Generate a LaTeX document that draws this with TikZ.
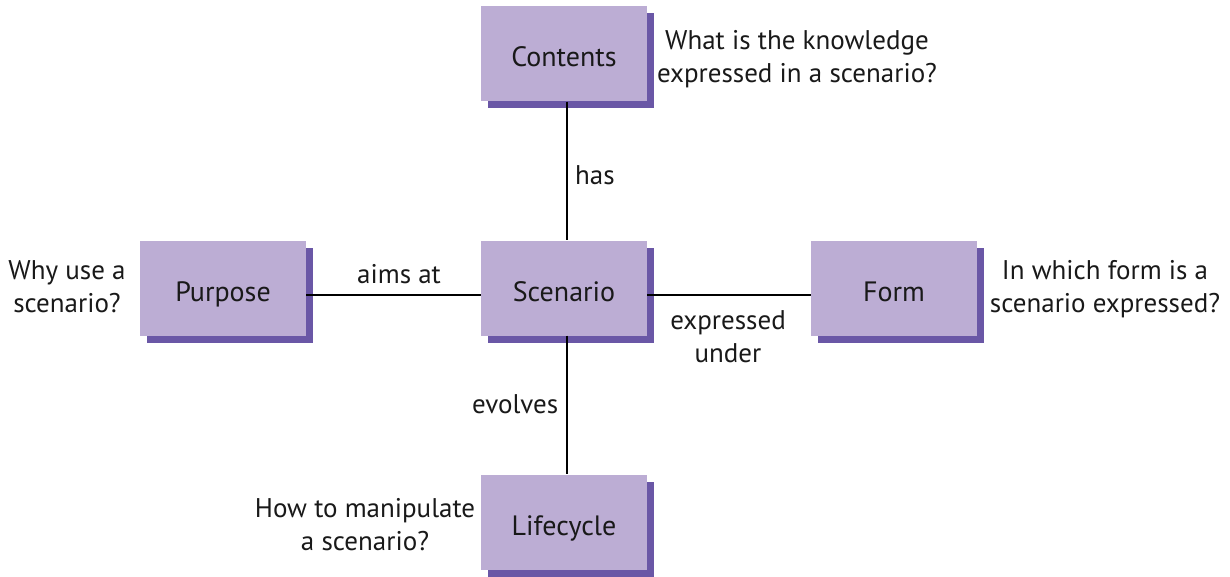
\documentclass[tikz,border=0pt]{standalone}
\usepackage{fontspec}
\setmainfont{PT Sans}
\usetikzlibrary{shadows}
\definecolor{boxfill}{HTML}{BCADD4}
\definecolor{boxshade}{HTML}{6A57A6}
\begin{document}
\begin{tikzpicture}[x=1pt,y=-1pt,
  every node/.style={font=\fontsize{27}{33}\selectfont, text=black!90},
  concept/.style={rectangle, fill=boxfill, minimum width=166pt, minimum height=95pt,
    inner sep=0pt, font=\fontsize{28}{33}\selectfont, text height=26pt, text depth=0pt,
    drop shadow={shadow xshift=7pt, shadow yshift=-7pt, fill=boxshade, opacity=1}},
  question/.style={align=center, anchor=base, inner sep=0pt},
  rel/.style={anchor=base west, inner sep=0pt},
  link/.style={draw=black, line width=1.2pt}]
\useasboundingbox (0,0) rectangle (1230,577);

% where the connecting lines cross
\coordinate (hub) at (567,295);

% concept boxes
\node[concept] (contents)  at (564,54)    {Contents};
\node[concept] (scenario)  at (564,288)   {Scenario};
\node[concept] (purpose)   at (223,288)   {Purpose};
\node[concept] (form)      at (894,288)   {Form};
\node[concept] (lifecycle) at (564,522)   {Lifecycle};

% connectors
\draw[link] (contents.south -| hub) -- (scenario.north -| hub);
\draw[link] (scenario.south -| hub) -- (lifecycle.north -| hub);
\draw[link] (purpose.east |- hub) -- (scenario.west |- hub);
\draw[link] (scenario.east |- hub) -- (form.west |- hub);

% relation labels
\node[rel] (lhas)     at (575,185) {has};
\node[rel] (laims)    at (357,283) {aims at};
\node[rel] (levolves) at (472,413) {evolves};
\node[question] (lexpr) at (728,362) {expressed\\under};

% questions beside each box (anchored at the last line's baseline)
\node[question] (qcontents)  at (797,83)  {What is the knowledge\\expressed in a scenario?};
\node[question] (qpurpose)   at (67,312)  {Why use a\\scenario?};
\node[question] (qform)      at (1105,312) {In which form is a\\scenario expressed?};
\node[question] (qlifecycle) at (365,550) {How to manipulate\\a scenario?};
\end{tikzpicture}
\end{document}
